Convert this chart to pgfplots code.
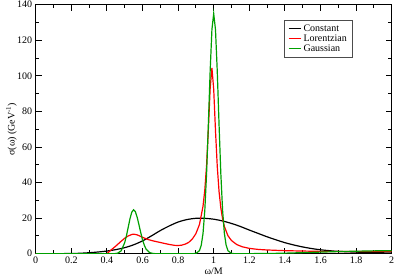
\documentclass[border=0pt]{standalone}
\usepackage{fontspec}
\setmainfont{Liberation Serif}
\usepackage{pgfplots}
\pgfplotsset{compat=1.18}
\definecolor{gcol}{RGB}{0,160,0}
\begin{document}
\begin{tikzpicture}
\begin{axis}[name=ax,
  scale only axis, width=356pt, height=249pt,
  xmin=0, xmax=2, ymin=0, ymax=140,
  xtick={0,0.2,...,2.01}, ytick={0,20,...,140},
  minor x tick num=1, minor y tick num=1,
  tick align=inside, major tick length=6pt, minor tick length=3.5pt,
  every tick/.style={black, line width=0.9pt},
  axis line style={line width=1pt},
  font=\fontsize{10}{12}\selectfont,
  /pgf/number format/assume math mode=true,
  xlabel={ω/M}, ylabel={σ(ω) (GeV\textsuperscript{-1})},
  xlabel style={at={(axis description cs:0.5,-0.072)}, anchor=center},
  ylabel style={at={(axis description cs:-0.068,0.5)}, anchor=center},
  legend style={at={(0.697,0.9386)}, anchor=north west, draw=black!70, line width=0.6pt,
    font=\fontsize{10}{10}\selectfont, inner xsep=4pt, inner ysep=3pt,
    row sep=-1.2pt, nodes={inner sep=1.5pt}},
  legend cell align=left,
  legend image code/.code={\draw[#1, line width=1.2pt] (0pt,0pt) -- (12.7pt,0pt);},
]
\addplot[black, line width=1.2pt, smooth] coordinates {
(0,0) (0.1,0.02) (0.2,0.1) (0.25,0.25) (0.3,0.55) (0.35,0.95) (0.4,1.5) (0.45,2.3)
(0.5,3.4) (0.55,5.0) (0.6,7.2) (0.65,10.0) (0.7,13.0) (0.75,15.6) (0.8,17.8)
(0.85,19.2) (0.9,19.9) (0.95,19.9) (1.0,19.4) (1.05,18.4) (1.1,17.0) (1.15,15.3)
(1.2,13.3) (1.25,11.4) (1.3,9.5) (1.35,7.8) (1.4,6.2) (1.45,4.9) (1.5,3.8)
(1.55,2.9) (1.6,2.2) (1.65,1.7) (1.7,1.3) (1.8,0.9) (1.9,0.6) (2.0,0.4)};
\addlegendentry{Constant}
\addplot[red, line width=1.2pt] coordinates {
(0,0) (0.40,0) (0.42,1.8) (0.45,4.3) (0.48,7.0) (0.50,8.7) (0.52,10.0) (0.54,10.8)
(0.55,11.0) (0.57,10.6) (0.59,9.7) (0.61,8.8) (0.63,8.0) (0.66,7.2) (0.70,6.3)
(0.75,5.2) (0.78,4.7) (0.80,4.6) (0.82,4.8) (0.84,5.4) (0.86,6.4) (0.88,8.3)
(0.90,11.3) (0.92,16.4) (0.94,26.7) (0.95,35.8)
(0.96,49.8) (0.97,69.8) (0.98,92.8) (0.99,104.5) (1.00,92.5) (1.01,69.3)
(1.02,49.1) (1.03,35.0) (1.04,25.8) (1.05,19.5) (1.06,15.3) (1.08,10.1)
(1.10,7.4) (1.13,5.1) (1.16,3.9) (1.20,3.0) (1.25,2.4) (1.30,2.1) (1.40,1.7)
(1.50,1.5) (1.60,1.3) (1.70,1.2) (1.80,1.2) (1.90,1.2) (2.00,1.2)};
\addlegendentry{Lorentzian}
\addplot[gcol, line width=1.2pt] coordinates {
(0,0) (0.44,0) (0.46,0.27) (0.48,1.6) (0.50,6.2) (0.51,10.2) (0.52,15.0)
(0.53,19.8) (0.54,23.4) (0.55,24.7) (0.56,23.6) (0.57,20.5) (0.58,16.3)
(0.59,11.9) (0.60,7.8) (0.61,4.8) (0.62,2.6) (0.64,0.6) (0.66,0.1) (0.68,0)
(0.88,0) (0.90,0.14) (0.92,1.7) (0.93,4.7) (0.94,11.4) (0.95,24.3) (0.96,45.1)
(0.97,72.8) (0.98,102.6) (0.99,126) (1.00,135) (1.01,126) (1.02,102.6)
(1.03,72.8) (1.04,45.1) (1.05,24.3) (1.06,11.4) (1.07,4.7) (1.08,1.7)
(1.10,0.14) (1.12,0) (1.30,0.1) (1.40,0.3) (1.50,0.6) (1.60,0.9) (1.70,1.2)
(1.80,1.4) (1.90,1.6) (2.00,1.7)};
\addlegendentry{Gaussian}
\end{axis}
\pgfresetboundingbox
\path[use as bounding box] ([shift={(-35.7pt,-22.3pt)}]ax.south west) rectangle ([shift={(3.3pt,4.7pt)}]ax.north east);
\end{tikzpicture}
\end{document}
